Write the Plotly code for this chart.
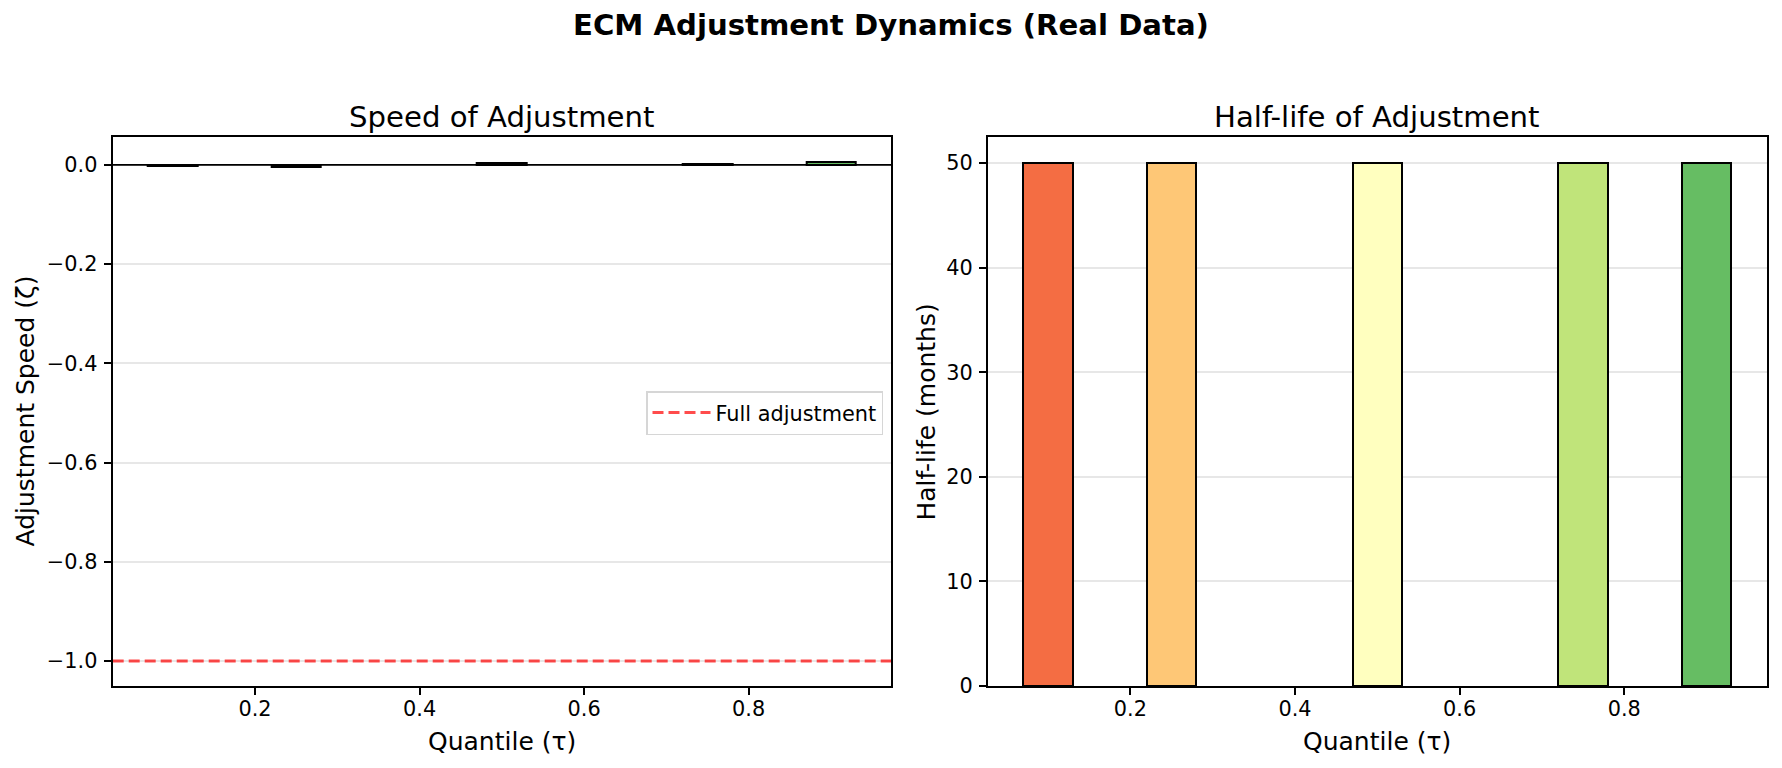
import plotly.graph_objects as go

# ---- data ----
quantiles = [0.1, 0.25, 0.5, 0.75, 0.9]
speed = [-0.002, -0.005, 0.003, 0.001, 0.006]
half_life = [50, 50, 50, 50, 50]
bar_colors = ["#f46d43", "#fec776", "#ffffbf", "#c0e47a", "#66bd63"]
full_adj_level = -1.0
x_ticks = [0.2, 0.4, 0.6, 0.8]
bar_width = 0.06

W, H = 1782, 768
FONT = "DejaVu Sans"
PT = 150 / 72.0

# axis geometry (pixels in the figure)
L1, R1 = 112.7, 891.0
L2, R2 = 988.0, 1766.7
TOP, BOT = 137.0, 686.0

def px(x):
    return x / W

def py(y):
    return 1 - y / H

# x range like matplotlib autoscale with 5% margins
xmin = min(quantiles) - bar_width / 2
xmax = max(quantiles) + bar_width / 2
pad = 0.05 * (xmax - xmin)
xr = [xmin - pad, xmax + pad]

ylo = min(min(speed), full_adj_level)
yhi = max(max(speed), 0)
ypad = 0.05 * (yhi - ylo)
yr1 = [ylo - ypad, yhi + ypad]
yr2 = [0, max(half_life) * 1.05]

fig = go.Figure()

fig.add_trace(go.Bar(
    x=quantiles, y=speed, width=[bar_width] * len(quantiles),
    marker=dict(color=bar_colors, line=dict(color="black", width=2)),
    xaxis="x", yaxis="y", showlegend=False, hoverinfo="x+y"))

fig.add_trace(go.Scatter(
    x=xr, y=[full_adj_level, full_adj_level], mode="lines",
    line=dict(color="rgba(255,0,0,0.7)", width=1.5 * PT, dash="11px,5px"),
    name="Full adjustment", xaxis="x", yaxis="y", showlegend=True))

fig.add_trace(go.Bar(
    x=quantiles, y=half_life, width=[bar_width] * len(quantiles),
    marker=dict(color=bar_colors, line=dict(color="black", width=2)),
    xaxis="x2", yaxis="y2", showlegend=False, hoverinfo="x+y"))

tickfont = dict(family=FONT, size=10 * PT, color="black")
axis_common = dict(
    showline=True, linecolor="black", linewidth=0.8 * PT, mirror=True,
    ticks="outside", ticklen=3.5 * PT, tickwidth=0.8 * PT, tickcolor="black",
    tickfont=tickfont, zeroline=False, automargin=False)

fig.update_layout(
    width=W, height=H,
    margin=dict(l=0, r=0, t=0, b=0, autoexpand=False),
    paper_bgcolor="white", plot_bgcolor="white",
    font=dict(family=FONT, color="black"),
    bargap=0,
    xaxis=dict(domain=[px(L1), px(R1)], range=xr, tickvals=x_ticks,
               tickformat=".1f", showgrid=False, anchor="y",
               ticklabelstandoff=-4, **axis_common),
    yaxis=dict(domain=[py(BOT), py(TOP)], range=yr1, dtick=0.2, tick0=0,
               tickformat=".1f", showgrid=True, gridcolor="#e7e7e7",
               gridwidth=0.8 * PT, anchor="x", ticklabelstandoff=2, **axis_common),
    xaxis2=dict(domain=[px(L2), px(R2)], range=xr, tickvals=x_ticks,
                tickformat=".1f", showgrid=False, anchor="y2",
                ticklabelstandoff=-4, **axis_common),
    yaxis2=dict(domain=[py(BOT), py(TOP)], range=yr2, dtick=10, tick0=0,
                showgrid=True, gridcolor="#e7e7e7", gridwidth=0.8 * PT,
                anchor="x2", ticklabelstandoff=2, **axis_common),
    legend=dict(x=px(883), y=py(413), xanchor="right", yanchor="middle",
                bgcolor="rgba(255,255,255,0.8)", bordercolor="#d6d6d6",
                borderwidth=1.5, font=dict(family=FONT, size=10 * PT, color="black"),
                itemwidth=58),
    shapes=[dict(type="line", xref="x domain", yref="y", x0=0, x1=1,
                 y0=0, y1=0, line=dict(color="black", width=0.8 * PT),
                 layer="above")],
)

ann = []
ann.append(dict(text="<b>ECM Adjustment Dynamics (Real Data)</b>", x=0.5, y=py(25),
                xref="paper", yref="paper", showarrow=False,
                font=dict(family=FONT, size=14 * PT), xanchor="center", yanchor="middle"))
ann.append(dict(text="Speed of Adjustment", x=px((L1 + R1) / 2), y=py(117),
                xref="paper", yref="paper", showarrow=False,
                font=dict(family=FONT, size=14 * PT), xanchor="center", yanchor="middle"))
ann.append(dict(text="Half-life of Adjustment", x=px((L2 + R2) / 2), y=py(117),
                xref="paper", yref="paper", showarrow=False,
                font=dict(family=FONT, size=14 * PT), xanchor="center", yanchor="middle"))
for cx in [(L1 + R1) / 2, (L2 + R2) / 2]:
    ann.append(dict(text="Quantile (τ)", x=px(cx), y=py(741),
                    xref="paper", yref="paper", showarrow=False,
                    font=dict(family=FONT, size=12 * PT), xanchor="center", yanchor="middle"))
ann.append(dict(text="Adjustment Speed (ζ)", x=px(25), y=py((TOP + BOT) / 2),
                xref="paper", yref="paper", showarrow=False, textangle=-90,
                font=dict(family=FONT, size=12 * PT), xanchor="center", yanchor="middle"))
ann.append(dict(text="Half-life (months)", x=px(926), y=py((TOP + BOT) / 2),
                xref="paper", yref="paper", showarrow=False, textangle=-90,
                font=dict(family=FONT, size=12 * PT), xanchor="center", yanchor="middle"))
fig.update_layout(annotations=ann)

fig.write_html("out.html")
